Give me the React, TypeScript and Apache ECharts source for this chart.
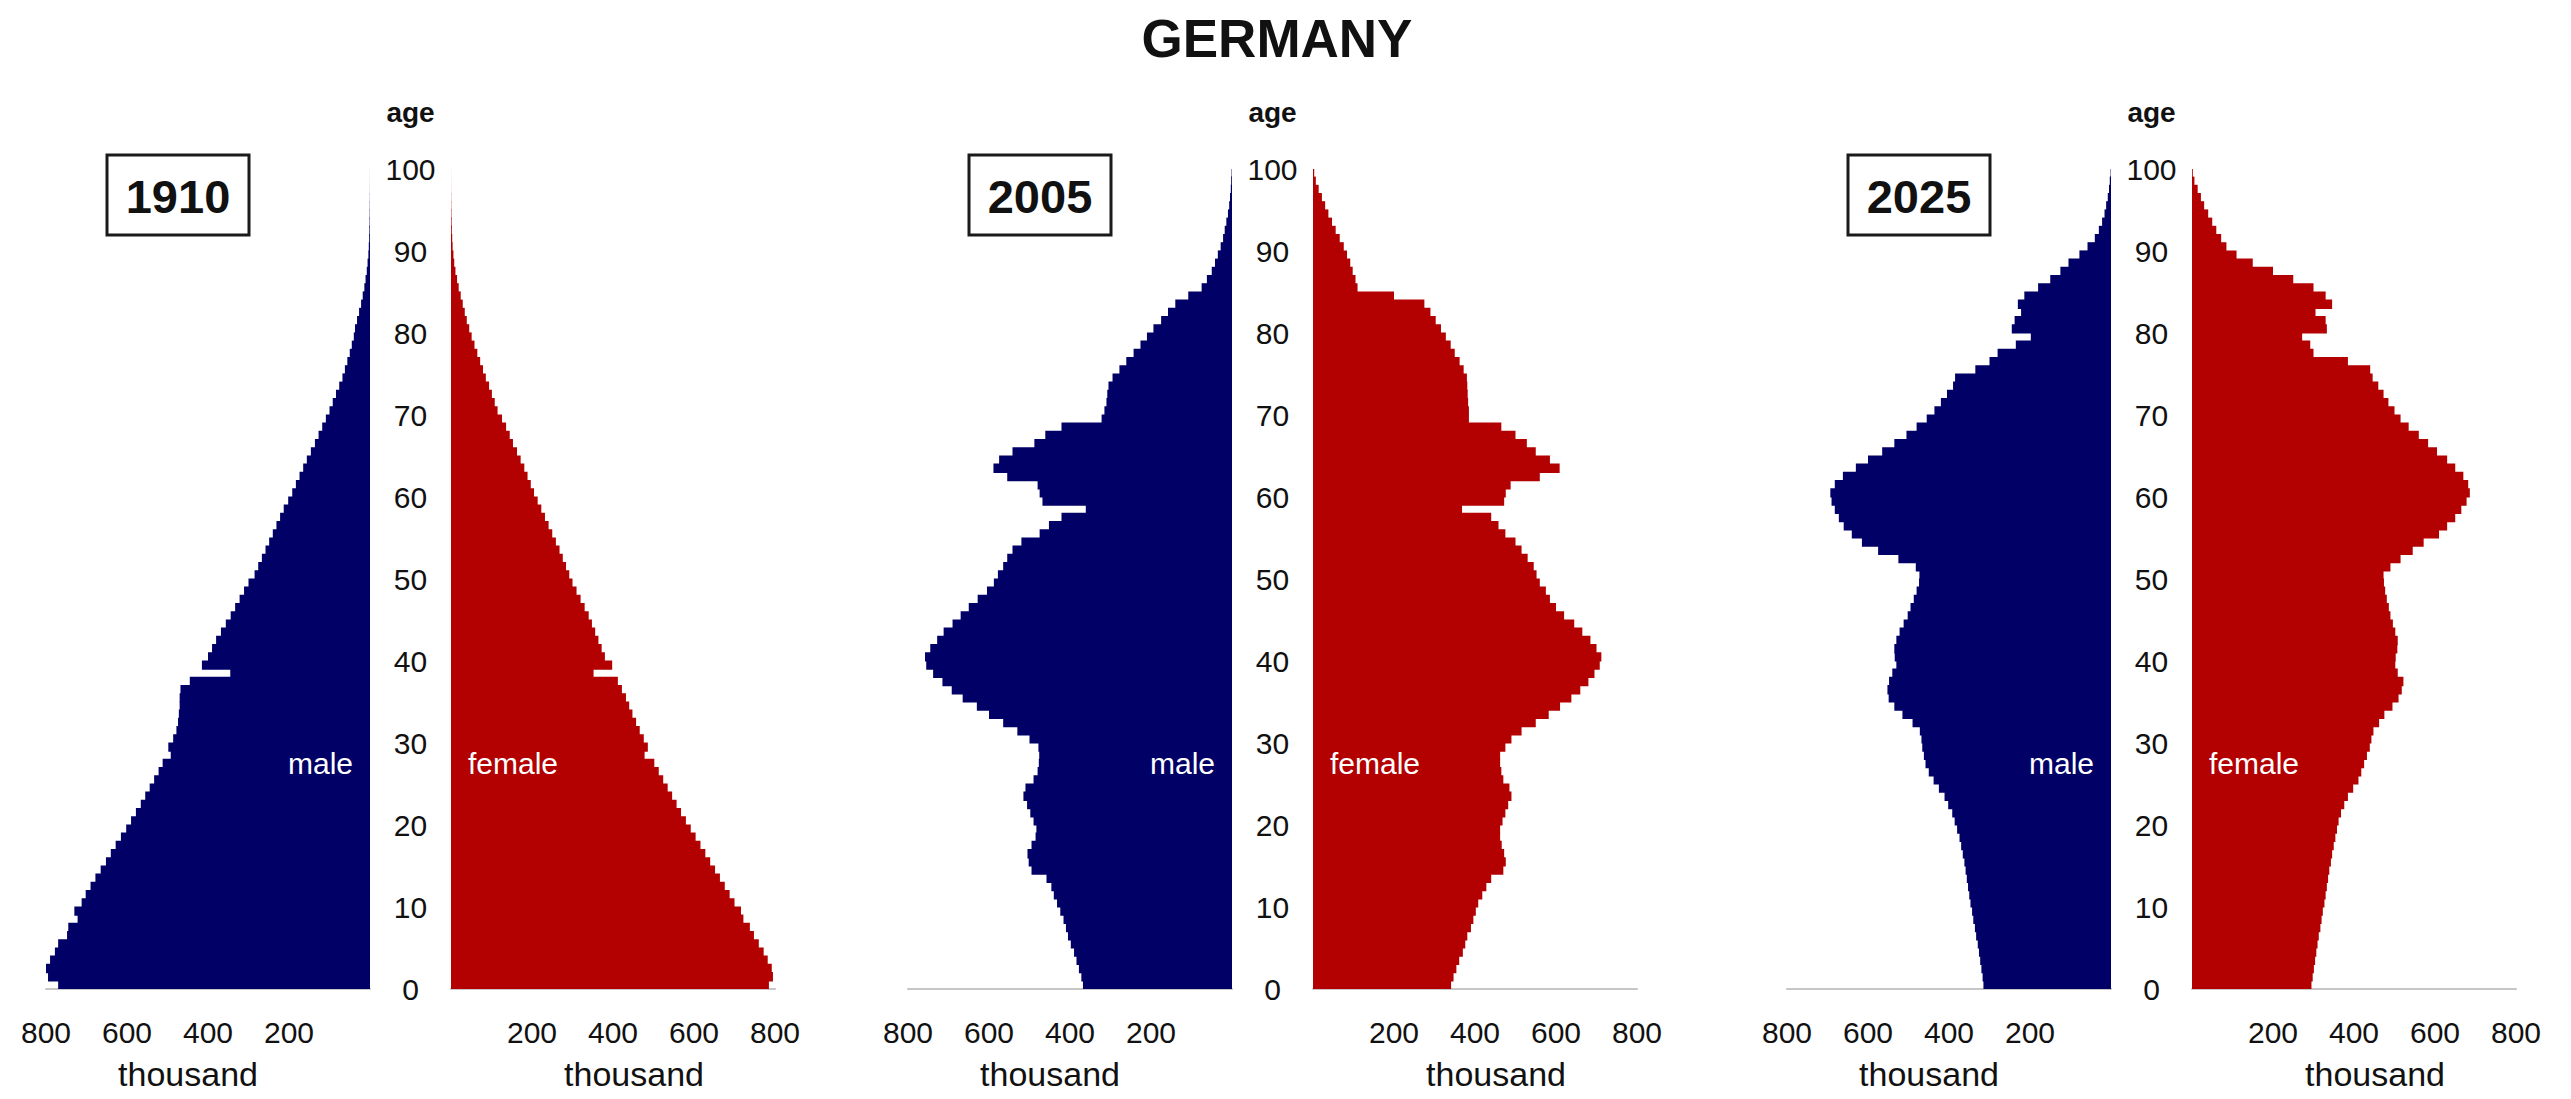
import React, { useEffect, useRef } from "react";
import * as echarts from "echarts";

// ---------- data (thousand persons, single years of age 0..99) ----------
const AGES: string[] = Array.from({ length: 100 }, (_, i) => String(i));
const YEARS = ["1910", "2005", "2025"];
const TITLE = "GERMANY";

const MALE_1910 = [
  770, 795, 800, 790, 778, 770, 748, 745, 722, 730,
  712, 702, 690, 678, 665, 652, 640, 628, 615, 602,
  590, 578, 566, 555, 544, 533, 522, 512, 492, 498,
  486, 478, 474, 472, 470, 470, 468, 445, 345, 415,
  400, 390, 380, 368, 356, 344, 333, 322, 311, 300,
  285, 276, 267, 258, 249, 240, 231, 222, 213, 202,
  192, 183, 174, 165, 156, 146, 136, 127, 118, 109,
  100, 92, 84, 76, 68, 62, 56, 50, 45, 40,
  37, 32, 27, 22, 18, 14, 11, 8, 6, 4,
  3, 2, 1.5, 1, 0.7, 0.5, 0.3, 0.2, 0.1, 0.1,
];
const FEMALE_1910 = [
  785, 795, 792, 782, 772, 760, 748, 738, 722, 716,
  700, 688, 676, 664, 652, 640, 628, 616, 604, 592,
  580, 568, 557, 546, 535, 524, 513, 502, 478, 486,
  476, 466, 457, 448, 440, 432, 422, 412, 352, 398,
  380, 372, 364, 356, 348, 340, 330, 320, 310, 300,
  292, 284, 276, 268, 259, 250, 241, 232, 223, 214,
  205, 197, 189, 181, 172, 163, 153, 145, 136, 126,
  115, 108, 101, 94, 86, 79, 72, 65, 58, 51,
  45, 39, 34, 29, 24, 19, 15, 11, 8, 6,
  4, 3, 2, 1.5, 1, 0.6, 0.4, 0.2, 0.1, 0.1,
];
const MALE_2005 = [
  368, 372, 378, 384, 390, 398, 405, 410, 416, 424,
  432, 440, 446, 458, 495, 502, 505, 495, 485, 483,
  490, 498, 506, 515, 510, 490, 480, 477, 476, 478,
  500, 530, 565, 600, 630, 665, 692, 715, 738, 755,
  758, 745, 728, 712, 690, 670, 650, 628, 605, 588,
  578, 565, 555, 542, 520, 475, 452, 421, 361, 468,
  475, 480, 555, 589, 575, 542, 488, 461, 421, 322,
  315, 310, 308, 305, 295, 278, 261, 243, 226, 210,
  194, 175, 158, 140, 108, 75, 62, 50, 42, 35,
  28, 22, 18, 14, 10, 7, 5, 3, 2, 1,
];
const FEMALE_2005 = [
  341, 347, 354, 361, 370, 376, 381, 390, 396, 402,
  408, 418, 428, 440, 470, 476, 472, 466, 462, 462,
  468, 475, 482, 490, 485, 470, 465, 462, 462, 475,
  490, 515, 550, 582, 610, 638, 660, 680, 695, 708,
  712, 700, 685, 665, 645, 620, 600, 585, 575, 560,
  552, 545, 530, 515, 500, 475, 458, 440, 368, 472,
  476, 488, 560, 609, 585, 550, 528, 500, 465, 385,
  385, 383, 382, 381, 380, 372, 362, 350, 340, 328,
  316, 303, 290, 275, 200, 110, 105, 98, 92, 84,
  76, 66, 56, 47, 38, 30, 22, 14, 7, 3,
];
const MALE_2025 = [
  315, 317, 320, 323, 326, 329, 333, 336, 340, 343,
  347, 350, 353, 356, 359, 362, 366, 370, 374, 380,
  386, 392, 402, 411, 425, 438, 450, 458, 462, 466,
  468, 472, 490, 515, 535, 549, 552, 548, 540, 530,
  534, 535, 530, 522, 512, 502, 495, 487, 480, 474,
  473, 482, 525, 575, 615, 640, 660, 672, 682, 690,
  693, 682, 662, 630, 600, 565, 535, 505, 480, 455,
  436, 420, 405, 390, 385, 335, 300, 280, 235, 198,
  245, 238, 222, 230, 214, 180, 150, 125, 105, 78,
  58, 40, 30, 22, 16, 12, 8, 5, 3, 1,
];
const FEMALE_2025 = [
  295, 298, 301, 304, 307, 310, 313, 317, 320, 323,
  327, 330, 333, 336, 339, 343, 346, 350, 354, 358,
  362, 368, 376, 385, 398, 411, 418, 425, 432, 439,
  443, 448, 462, 475, 495, 510, 518, 522, 508, 502,
  503, 507, 508, 502, 496, 490, 486, 481, 477, 474,
  473, 490, 515, 545, 572, 610, 630, 650, 665, 678,
  686, 682, 670, 650, 630, 605, 583, 560, 535, 515,
  500, 485, 473, 460, 446, 440, 385, 300, 292, 272,
  333, 330, 305, 346, 330, 300, 250, 200, 150, 110,
  85, 72, 60, 50, 40, 30, 22, 14, 6, 2,
];
const MALES = [MALE_1910, MALE_2005, MALE_2025];
const FEMALES = [FEMALE_1910, FEMALE_2005, FEMALE_2025];

// ---------- layout & style ----------
const MALE_ZERO_X = [370, 1232, 2111];
const GAP = 81;
const HALF_W = 324;
const TOP = 169;
const PLOT_H = 820;
const BAR_W = PLOT_H / 100 + 1.2; // slight overlap so adjacent years show no seams
const BLUE = "#000066";
const RED = "#b30000";
const FONT = "'Liberation Sans', Arial, sans-serif";

function txt(x: number, y: number, text: string, s: any) {
  return {
    type: "text",
    x,
    y,
    z: 100,
    silent: true,
    style: {
      text,
      fill: s.fill || "#111",
      fontSize: s.fontSize,
      fontWeight: s.fontWeight || "normal",
      fontFamily: FONT,
      align: s.align || "center",
      textAlign: s.align || "center",
      verticalAlign: "middle",
      textVerticalAlign: "middle",
    },
  };
}

function buildOption() {
  const grid: any[] = [];
  const xAxis: any[] = [];
  const yAxis: any[] = [];
  const series: any[] = [];
  const graphic: any[] = [];

  graphic.push(txt(1277, 38, TITLE, { fontSize: 53, fontWeight: "bold" }));

  MALE_ZERO_X.forEach((m0, p) => {
    const f0 = m0 + GAP;
    const sides = [
      { left: m0 - HALF_W, inverse: true, data: MALES[p], color: BLUE, namePad: [0, 40, 0, 0] },
      { left: f0, inverse: false, data: FEMALES[p], color: RED, namePad: [0, 0, 0, 42] },
    ];
    sides.forEach((s, k) => {
      const gi = grid.length;
      grid.push({
        left: s.left,
        top: TOP,
        width: HALF_W,
        height: PLOT_H,
        outerBoundsMode: "none",
        containLabel: false,
      });
      xAxis.push({
        gridIndex: gi,
        type: "value",
        min: 0,
        max: 800,
        interval: 200,
        inverse: s.inverse,
        axisLine: { show: true, lineStyle: { color: "#c6c6c6", width: 2 } },
        axisTick: { show: false },
        splitLine: { show: false },
        axisLabel: {
          formatter: (v: number) => (v === 0 ? "" : String(v)),
          fontSize: 30,
          fontFamily: FONT,
          color: "#111",
          margin: 28,
        },
        name: "thousand",
        nameLocation: "middle",
        nameGap: 68,
        nameTextStyle: { fontSize: 34, fontFamily: FONT, color: "#111", padding: s.namePad },
      });
      const catIdx = yAxis.length;
      yAxis.push({
        gridIndex: gi,
        type: "category",
        data: AGES,
        show: false,
      });
      if (k === 1) {
        yAxis.push({
          gridIndex: gi,
          type: "value",
          min: 0,
          max: 100,
          interval: 10,
          position: "left",
          axisLine: { show: false },
          axisTick: { show: false },
          splitLine: { show: false },
          axisLabel: { margin: GAP / 2, align: "center", fontSize: 30, color: "#111", fontFamily: FONT },
        });
      }
      series.push({
        type: "bar",
        name: k === 0 ? "male " + YEARS[p] : "female " + YEARS[p],
        xAxisIndex: gi,
        yAxisIndex: catIdx,
        data: s.data,
        barWidth: BAR_W,
        barGap: "0%",
        itemStyle: { color: s.color },
        silent: true,
      });
    });

    // year box
    graphic.push({
      type: "rect",
      z: 100,
      silent: true,
      shape: { x: m0 - 263, y: 155, width: 142, height: 80 },
      style: { fill: "#ffffff", stroke: "#1a1a1a", lineWidth: 3 },
    });
    graphic.push(txt(m0 - 192, 196, YEARS[p], { fontSize: 47, fontWeight: "bold" }));
    graphic.push(txt(m0 + GAP / 2, 112, "age", { fontSize: 28, fontWeight: "bold" }));
    graphic.push(txt(m0 - 17, 763, "male", { fontSize: 30, fill: "#ffffff", align: "right" }));
    graphic.push(txt(f0 + 17, 763, "female", { fontSize: 30, fill: "#ffffff", align: "left" }));
  });

  return {
    animation: false,
    backgroundColor: "#ffffff",
    grid,
    xAxis,
    yAxis,
    series,
    graphic,
  };
}

export default function App() {
  const ref = useRef<HTMLDivElement>(null);
  useEffect(() => {
    if (!ref.current) return;
    const chart = echarts.init(ref.current, undefined, { renderer: "svg" });
    chart.setOption(buildOption() as any);
    return () => chart.dispose();
  }, []);
  return (
    <div
      ref={ref}
      style={{ position: "fixed", left: 0, top: 0, width: 2571, height: 1099, background: "#fff" }}
    />
  );
}
